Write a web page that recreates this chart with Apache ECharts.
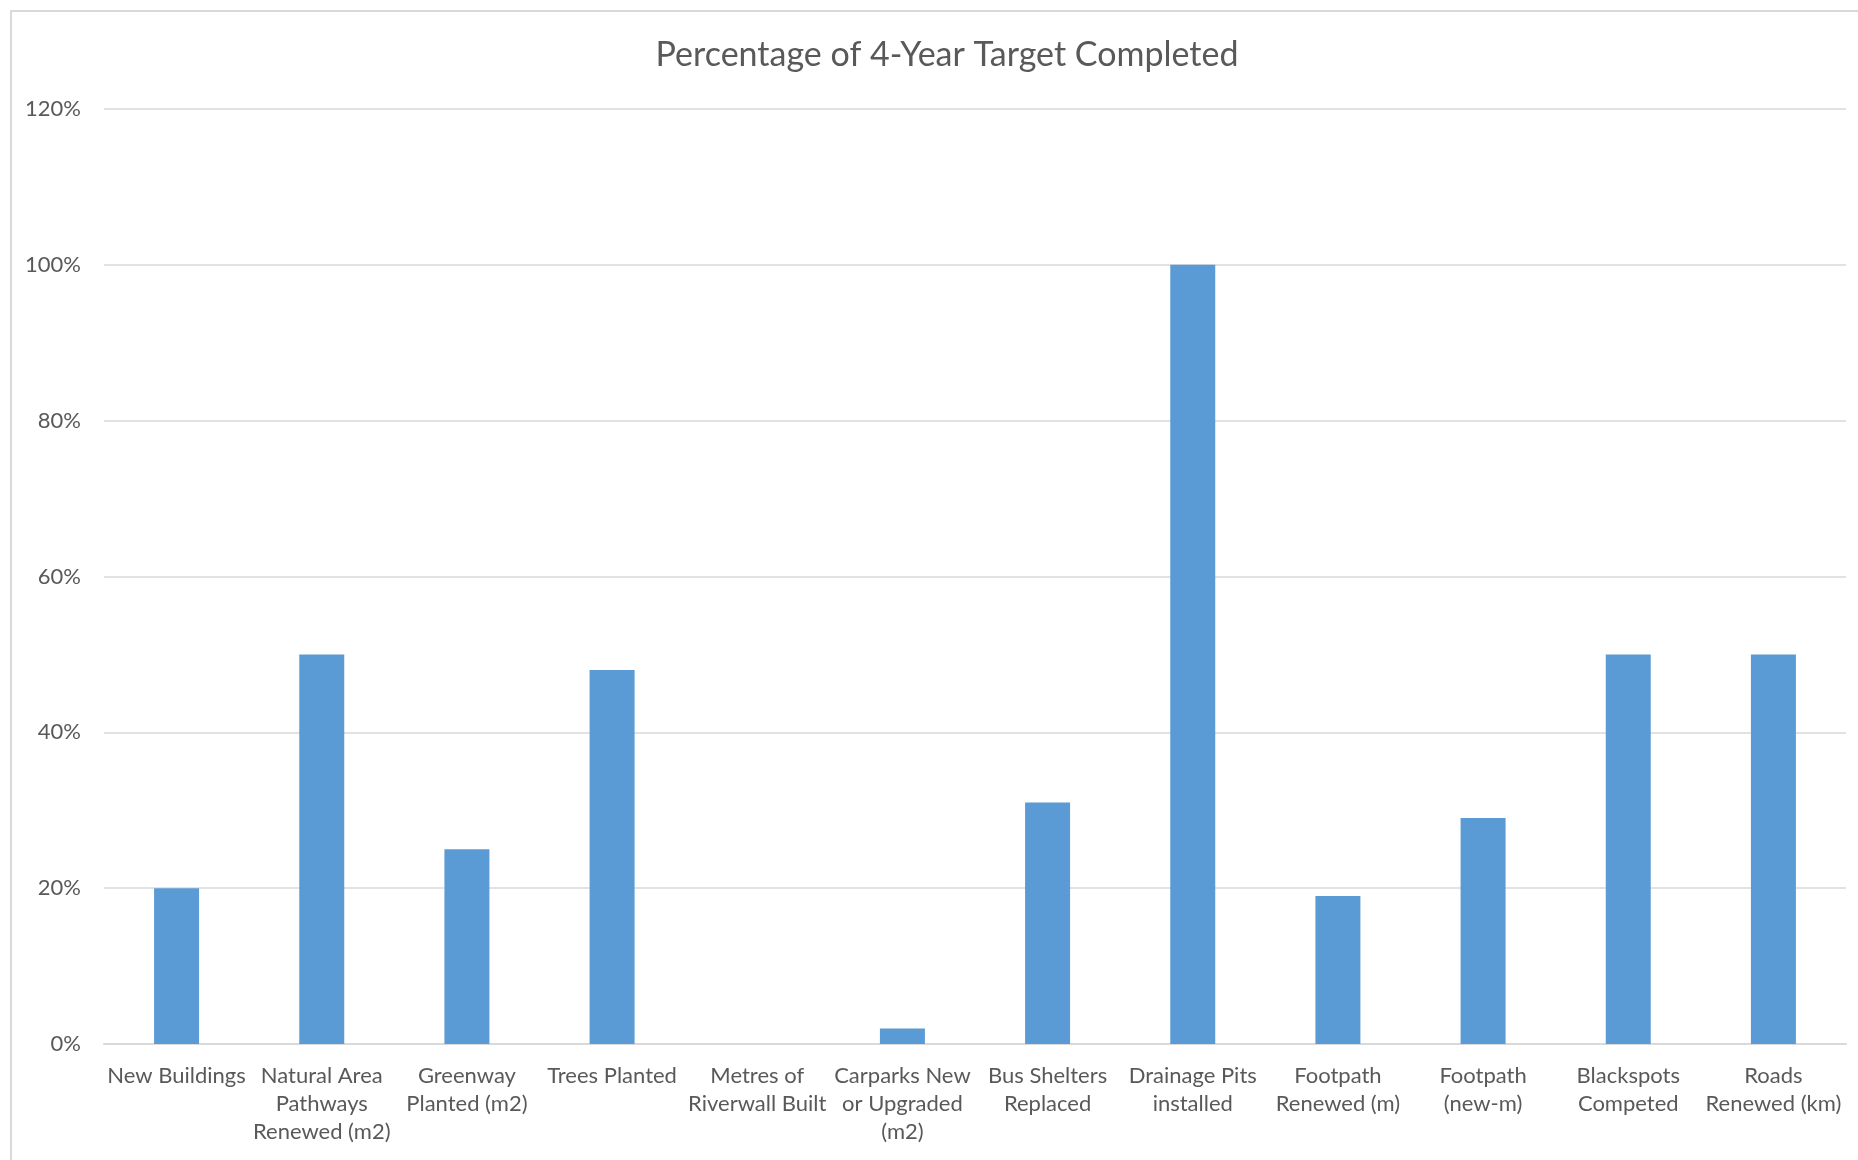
<!DOCTYPE html>
<html>
<head>
<meta charset="utf-8">
<script src="https://cdn.jsdelivr.net/npm/echarts@6/dist/echarts.min.js"></script>
<style>
  html, body { margin: 0; padding: 0; background: #fff; }
  #chart { width: 1858px; height: 1160px; }
</style>
</head>
<body>
<div id="chart"></div>
<script>
const categories = [
  'New Buildings',
  'Natural Area\nPathways\nRenewed (m2)',
  'Greenway\nPlanted (m2)',
  'Trees Planted',
  'Metres of\nRiverwall Built',
  'Carparks New\nor Upgraded\n(m2)',
  'Bus Shelters\nReplaced',
  'Drainage Pits\ninstalled',
  'Footpath\nRenewed (m)',
  'Footpath\n(new-m)',
  'Blackspots\nCompeted',
  'Roads\nRenewed (km)'
]
const completed = [0.20, 0.50, 0.25, 0.48, 0, 0.02, 0.31, 1.00, 0.19, 0.29, 0.50, 0.50]

const textColor = '#595959'
const gridColor = '#d9d9d9'
const font = 'Lato, "Open Sans", sans-serif'

const chart = echarts.init(document.getElementById('chart'))

chart.setOption({
  animation: false,
  title: {
    text: 'Percentage of 4-Year Target Completed',
    left: 942,
    top: 33,
    textAlign: 'center',
    textStyle: {
      color: textColor,
      fontFamily: font,
      fontWeight: 'normal',
      fontSize: 34
    }
  },
  graphic: [{
    type: 'rect',
    shape: { x: 11, y: 11, width: 2000, height: 2000 },
    style: { fill: 'none', stroke: gridColor, lineWidth: 2 },
    z: -1
  }],
  grid: {
    left: 104,
    right: 12,
    top: 109,
    bottom: 116
  },
  xAxis: {
    type: 'category',
    data: categories,
    axisLine: { lineStyle: { color: gridColor, width: 2 } },
    axisTick: { show: false },
    axisLabel: {
      interval: 0,
      color: textColor,
      fontFamily: font,
      fontSize: 22,
      lineHeight: 28,
      margin: 18
    }
  },
  yAxis: {
    type: 'value',
    min: 0,
    max: 1.2,
    interval: 0.2,
    axisLine: { show: false },
    axisTick: { show: false },
    splitLine: { lineStyle: { color: gridColor, width: 1.5 } },
    axisLabel: {
      color: textColor,
      fontFamily: font,
      fontSize: 22,
      margin: 23,
      formatter: v => Math.round(v * 100) + '%'
    }
  },
  series: [{
    type: 'bar',
    data: completed,
    barWidth: 45,
    itemStyle: { color: '#5b9bd5' }
  }]
})
</script>
</body>
</html>
